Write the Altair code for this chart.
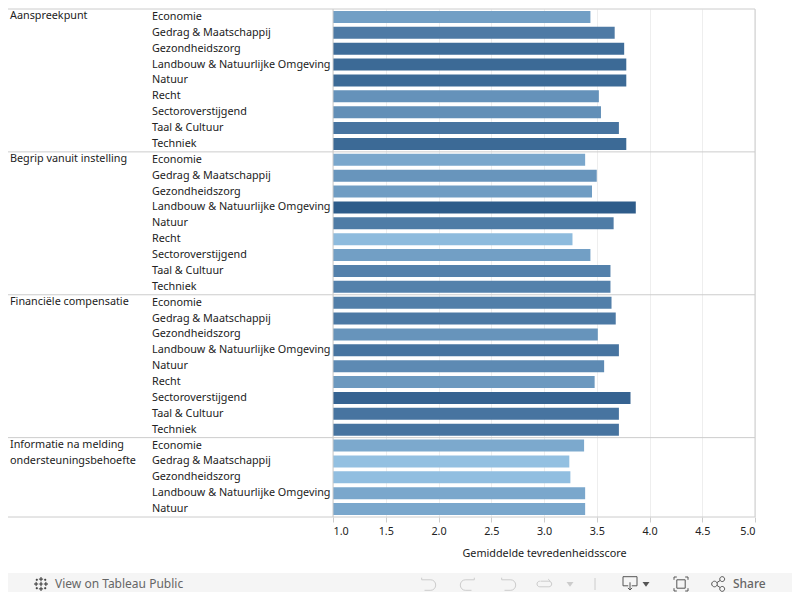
import altair as alt
import pandas as pd

groups = ["Aanspreekpunt", "Begrip vanuit instelling", "Financiële compensatie",
          "Informatie na melding\nondersteuningsbehoefte"]
fields = ["Economie", "Gedrag & Maatschappij", "Gezondheidszorg",
          "Landbouw & Natuurlijke Omgeving", "Natuur", "Recht",
          "Sectoroverstijgend", "Taal & Cultuur", "Techniek"]
fields_last = ["Economie", "Gedrag & Maatschappij", "Gezondheidszorg",
               "Landbouw & Natuurlijke Omgeving", "Natuur"]
values_a = [3.44, 3.67, 3.76, 3.78, 3.78, 3.52, 3.54, 3.71, 3.78]
values_b = [3.39, 3.50, 3.455, 3.87, 3.66, 3.27, 3.44, 3.63, 3.63]
values_c = [3.64, 3.68, 3.51, 3.71, 3.57, 3.48, 3.82, 3.71, 3.71]
values_d = [3.38, 3.24, 3.25, 3.39, 3.39]
ticks = [1.0, 1.5, 2.0, 2.5, 3.0, 3.5, 4.0, 4.5, 5.0]

series = [(groups[0], fields, values_a), (groups[1], fields, values_b),
          (groups[2], fields, values_c), (groups[3], fields_last, values_d)]
rows, starts, ends = [], [], []
i = 0
for g, fs, vs in series:
    starts.append({"row": i, "group": g})
    for f, v in zip(fs, vs):
        rows.append({"row": i, "group": g, "field": f, "value": v})
        i += 1
    ends.append(i)
df = pd.DataFrame(rows)
order = list(range(i))

W, H = 422, 508
pitch = H / i
FONT = "Noto Sans"
LINE = "#cccccc"
FS = 10.8

y = alt.Y("row:O", axis=None,
          scale=alt.Scale(domain=order, paddingInner=0.25, paddingOuter=0.125))
x = alt.X("value:Q",
          scale=alt.Scale(domain=[1, 5], nice=False, zero=False),
          axis=alt.Axis(values=ticks, format=".1f", title="Gemiddelde tevredenheidsscore",
                        grid=True, gridColor="#eeeeee", domain=False,
                        tickColor=LINE, tickSize=5, labelFlush=True, labelPadding=3,
                        labelFont=FONT, labelFontSize=FS, labelColor="#222222",
                        titleFont=FONT, titleFontSize=FS, titleFontWeight="normal",
                        titleColor="#222222", titlePadding=12))

bars = alt.Chart(df).mark_bar(size=pitch * 0.75, clip=True).encode(
    x=x, y=y,
    color=alt.Color("value:Q", legend=None,
                    scale=alt.Scale(domain=[3.24, 3.87], range=["#93c0e1", "#2e5c8a"])))

field_text = alt.Chart(df).mark_text(align="left", baseline="middle", font=FONT, fontSize=FS,
                                     color="#222222").encode(
    y=y, x=alt.value(152 - 333), text="field:N")
group_text = alt.Chart(pd.DataFrame(starts)).mark_text(
    align="left", baseline="top", font=FONT, fontSize=FS, color="#222222",
    lineBreak="\n", lineHeight=16, dy=-7).encode(
    y=y, x=alt.value(10 - 333), text="group:N")

seps = pd.DataFrame({"n": [0] + ends})
sep_layers = [
    alt.Chart(seps.iloc[[k]]).mark_rule(color=LINE, strokeWidth=1).encode(
        x=alt.value(8 - 333), x2=alt.value(W), y=alt.value(n * pitch))
    for k, n in enumerate(seps["n"])
]
left = alt.Chart(seps.iloc[[0]]).mark_rule(color=LINE).encode(
    x=alt.value(0), y=alt.value(0), y2=alt.value(H))
right = alt.Chart(seps.iloc[[0]]).mark_rule(color=LINE).encode(
    x=alt.value(W), y=alt.value(0), y2=alt.value(H))

# Tableau toolbar
OX, OY = 333, 9
MID = 584
def px(v): return v - OX
def py(v): return v - OY
bar_bg = alt.Chart(seps.iloc[[0]]).mark_rect(color="#f5f5f5").encode(
    x=alt.value(px(8)), x2=alt.value(px(792)), y=alt.value(py(573)), y2=alt.value(py(592)))
view_text = alt.Chart(pd.DataFrame({"t": ["View on Tableau Public"]})).mark_text(
    align="left", baseline="middle", font=FONT, fontSize=12, color="#666666").encode(
    x=alt.value(px(55)), y=alt.value(py(MID)), text="t:N")
share_text = alt.Chart(pd.DataFrame({"t": ["Share"]})).mark_text(
    align="left", baseline="middle", font=FONT, fontSize=12, fontWeight=500, color="#666666").encode(
    x=alt.value(px(733)), y=alt.value(py(MID)), text="t:N")

UNDO = "M-0.9,-0.6 L0.4,-0.6 A0.7,0.75 0 0 1 0.4,0.9 L-0.5,0.9 M-0.9,-0.6 L-0.9,-0.9"
REDO = "M0.9,-0.6 L-0.4,-0.6 A0.7,0.75 0 0 0 -0.4,0.9 L0.5,0.9 M0.9,-0.6 L0.9,-0.9"
REFRESH = "M-0.5,-0.4 L0.7,-0.4 A0.4,0.4 0 0 1 0.7,0.4 L-0.6,0.4 A0.4,0.4 0 0 1 -0.6,-0.4 M0.6,-0.7 L0.9,-0.4"
DOWN = "M-1,-0.9 L1,-0.9 L1,0.4 L0.25,0.4 M-0.25,0.4 L-1,0.4 L-1,-0.9 M0,-0.1 L0,1 M-0.3,0.7 L0,1 L0.3,0.7"
FULL = "M-0.6,-1 L-1,-1 L-1,-0.6 M0.6,-1 L1,-1 L1,-0.6 M-0.6,1 L-1,1 L-1,0.6 M0.6,1 L1,1 L1,0.6 M-0.6,-0.6 L0.6,-0.6 L0.6,0.6 L-0.6,0.6 Z"
SHARE = ("M-0.5,0 m-0.4,0 a0.4,0.4 0 1 0 0.8,0 a0.4,0.4 0 1 0 -0.8,0 "
         "M0.6,-0.7 m-0.35,0 a0.35,0.35 0 1 0 0.7,0 a0.35,0.35 0 1 0 -0.7,0 "
         "M0.6,0.7 m-0.35,0 a0.35,0.35 0 1 0 0.7,0 a0.35,0.35 0 1 0 -0.7,0 "
         "M-0.15,-0.2 L0.3,-0.5 M-0.15,0.2 L0.3,0.5")
LOGO = ("M0,-1 L0,-0.4 M-0.3,-0.7 L0.3,-0.7 M0,0.4 L0,1 M-0.3,0.7 L0.3,0.7 "
        "M-1,0 L-0.4,0 M-0.7,-0.3 L-0.7,0.3 M0.4,0 L1,0 M0.7,-0.3 L0.7,0.3 "
        "M0,-0.3 L0,0.3 M-0.25,0 L0.25,0 M-0.6,-0.75 L-0.6,-0.45 M-0.75,-0.6 L-0.45,-0.6 "
        "M0.6,-0.75 L0.6,-0.45 M0.45,-0.6 L0.75,-0.6 M-0.6,0.45 L-0.6,0.75 M-0.75,0.6 L-0.45,0.6 "
        "M0.6,0.45 L0.6,0.75 M0.45,0.6 L0.75,0.6")
CARET = "M-1,-0.6 L1,-0.6 L0,0.8 Z"

icon_defs = [(428, MID, UNDO, 196, "#cccccc"), (468, MID, REDO, 196, "#cccccc"),
             (508, MID, UNDO, 196, "#cccccc"), (544, MID, REFRESH, 196, "#cccccc"),
             (630, MID - 1, DOWN, 196, "#555555"), (681, MID, FULL, 196, "#555555"),
             (718, MID, SHARE, 196, "#555555"), (41, MID, LOGO, 196, "#333333")]
icons = [
    alt.Chart(seps.iloc[[0]]).mark_point(shape=p, size=s, color=c, filled=False, strokeWidth=1,
                                         opacity=1).encode(
        x=alt.value(px(ix)), y=alt.value(py(iy)))
    for ix, iy, p, s, c in icon_defs
]
carets = [
    alt.Chart(seps.iloc[[0]]).mark_point(shape=CARET, size=s, color=c, filled=True, opacity=1).encode(
        x=alt.value(px(ix)), y=alt.value(py(MID)))
    for ix, s, c in [(570, 49, "#cccccc"), (646, 49, "#555555")]
]
vline = alt.Chart(seps.iloc[[0]]).mark_rule(color="#cccccc").encode(
    x=alt.value(px(595)), y=alt.value(py(578)), y2=alt.value(py(590)))

chart = alt.layer(
    bars, *sep_layers, left, right, field_text, group_text,
    bar_bg, view_text, share_text, *icons, *carets, vline
).properties(
    width=W, height=H,
    autosize=alt.AutoSizeParams(type="none"),
    padding={"left": OX - 8, "top": OY - 8, "right": 792 - 755, "bottom": 592 - OY - H},
).configure_view(stroke=None)

chart.save("out.html", embed_options={"renderer": "svg", "actions": False})
